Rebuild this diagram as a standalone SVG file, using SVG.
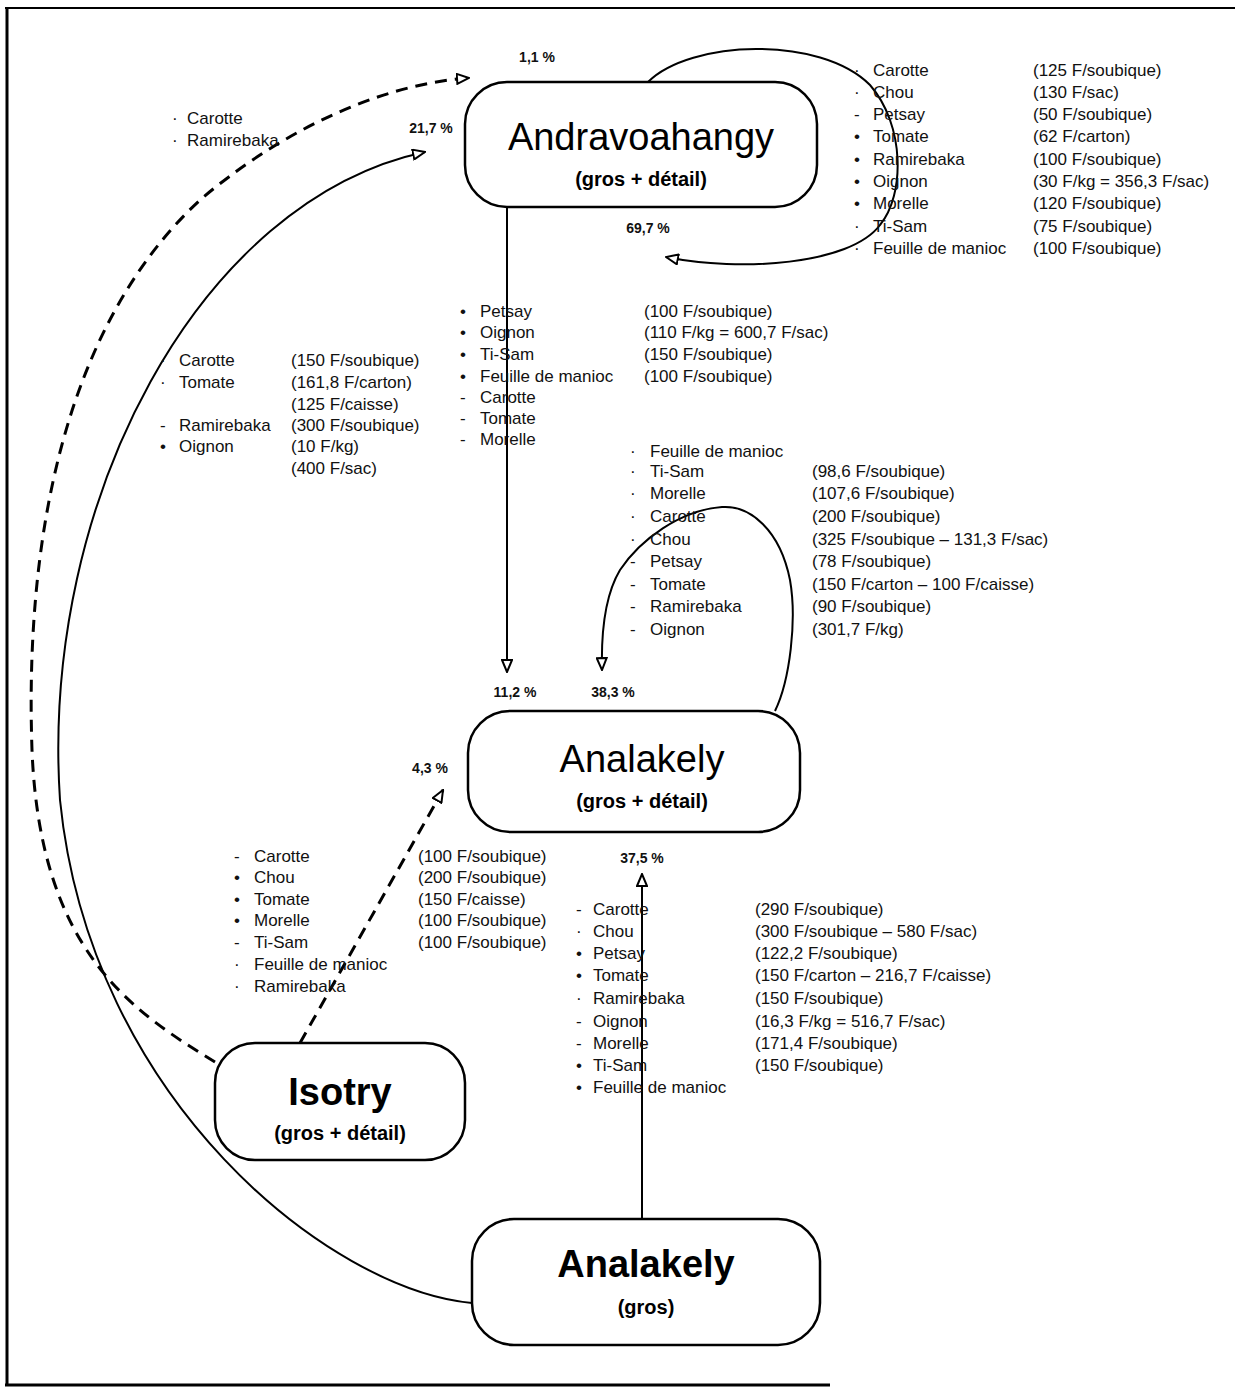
<svg xmlns="http://www.w3.org/2000/svg" width="1235" height="1390" viewBox="0 0 1235 1390">
<style>
  .t { font-family: "Liberation Sans", Arial, sans-serif; font-size: 17px; fill: #111; }
  .p { font-family: "Liberation Sans", Arial, sans-serif; font-size: 14px; font-weight: bold; fill: #111; text-anchor: middle; }
  .box { fill: #fff; stroke: #000; stroke-width: 2.5; }
  .title { font-family: "Liberation Sans", Arial, sans-serif; font-size: 38px; fill: #000; text-anchor: middle; }
  .sub { font-family: "Liberation Sans", Arial, sans-serif; font-size: 20px; font-weight: bold; fill: #000; text-anchor: middle; }
  .solid { fill: none; stroke: #000; stroke-width: 2; }
  .dash { fill: none; stroke: #000; stroke-width: 3; stroke-dasharray: 12 8; }
</style>
<defs>
  <marker id="arr" viewBox="0 0 14 12" refX="13" refY="6" markerWidth="14" markerHeight="12" markerUnits="userSpaceOnUse" orient="auto">
    <path d="M1,1 L13,6 L1,11 Z" fill="#fff" stroke="#000" stroke-width="2"/>
  </marker>
</defs>
<rect x="0" y="0" width="1235" height="1390" fill="#fff"/>
<g id="frame" stroke="#000" fill="none">
  <line x1="5" y1="8" x2="1235" y2="8" stroke-width="2"/>
  <line x1="7" y1="8" x2="7" y2="1386" stroke-width="3"/>
  <line x1="5" y1="1385" x2="830" y2="1385" stroke-width="3"/>
</g>
<g id="connectors">
  <path class="solid" d="M507,207 L507,672" marker-end="url(#arr)"/>
  <path class="solid" d="M775,711 C790,680 797,620 790,580 C780,530 750,505 722,507 C680,510 640,540 620,570 C605,595 601,630 602,670" marker-end="url(#arr)"/>
  <path class="solid" d="M648,82 C690,40 820,35 870,85 C905,125 905,195 880,225 C850,265 740,272 666,257" marker-end="url(#arr)"/>
  <path class="dash" d="M215,1062 C130,1010 40,950 32,750 C25,550 60,330 200,200 C270,140 370,85 469,78" marker-end="url(#arr)"/>
  <path class="solid" d="M472,1303 C330,1290 90,1100 60,800 C40,500 200,200 425,152" marker-end="url(#arr)"/>
  <path class="dash" d="M300,1043 L443,790" marker-end="url(#arr)"/>
  <path class="solid" d="M642,1219 L642,874" marker-end="url(#arr)"/>
</g>
<g id="node-andravoahangy">
  <rect class="box" x="465" y="82" width="352" height="125" rx="42"/>
  <text class="title" x="641" y="150">Andravoahangy</text>
  <text class="sub" x="641" y="186">(gros + détail)</text>
</g>
<g id="node-analakely">
  <rect class="box" x="468" y="711" width="332" height="121" rx="42"/>
  <text class="title" x="642" y="772">Analakely</text>
  <text class="sub" x="642" y="808">(gros + détail)</text>
</g>
<g id="node-isotry">
  <rect class="box" x="215" y="1043" width="250" height="117" rx="40"/>
  <text class="title" x="340" y="1105" font-weight="bold">Isotry</text>
  <text class="sub" x="340" y="1140">(gros + détail)</text>
</g>
<g id="node-analakely-gros">
  <rect class="box" x="472" y="1219" width="348" height="126" rx="42"/>
  <text class="title" x="646" y="1277" font-weight="bold">Analakely</text>
  <text class="sub" x="646" y="1314">(gros)</text>
</g>
<g id="percent-labels">
  <text class="p" x="537" y="62">1,1 %</text>
  <text class="p" x="431" y="133">21,7 %</text>
  <text class="p" x="648" y="233">69,7 %</text>
  <text class="p" x="515" y="697">11,2 %</text>
  <text class="p" x="613" y="697">38,3 %</text>
  <text class="p" x="430" y="773">4,3 %</text>
  <text class="p" x="642" y="863">37,5 %</text>
</g>
<g id="list-top-left" class="t">
  <text x="172" y="124">·</text><text x="187" y="124">Carotte</text>
  <text x="172" y="146">·</text><text x="187" y="146">Ramirebaka</text>
</g>
<g id="list-andravoahangy-loop">
  <text class="t"><tspan x="854" y="76">·</tspan><tspan x="854" y="98">·</tspan><tspan x="854" y="120">-</tspan><tspan x="854" y="142">•</tspan><tspan x="854" y="165">•</tspan><tspan x="854" y="187">•</tspan><tspan x="854" y="209">•</tspan><tspan x="854" y="232">·</tspan><tspan x="854" y="254">·</tspan></text>
  <text class="t"><tspan x="873" y="76">Carotte</tspan><tspan x="873" y="98">Chou</tspan><tspan x="873" y="120">Petsay</tspan><tspan x="873" y="142">Tomate</tspan><tspan x="873" y="165">Ramirebaka</tspan><tspan x="873" y="187">Oignon</tspan><tspan x="873" y="209">Morelle</tspan><tspan x="873" y="232">Ti-Sam</tspan><tspan x="873" y="254">Feuille de manioc</tspan></text>
  <text class="t"><tspan x="1033" y="76">(125 F/soubique)</tspan><tspan x="1033" y="98">(130 F/sac)</tspan><tspan x="1033" y="120">(50 F/soubique)</tspan><tspan x="1033" y="142">(62 F/carton)</tspan><tspan x="1033" y="165">(100 F/soubique)</tspan><tspan x="1033" y="187">(30 F/kg = 356,3 F/sac)</tspan><tspan x="1033" y="209">(120 F/soubique)</tspan><tspan x="1033" y="232">(75 F/soubique)</tspan><tspan x="1033" y="254">(100 F/soubique)</tspan></text>
</g>
<g id="list-andra-to-analakely">
  <text class="t"><tspan x="460" y="317">•</tspan><tspan x="460" y="338">•</tspan><tspan x="460" y="360">•</tspan><tspan x="460" y="382">•</tspan><tspan x="460" y="403">-</tspan><tspan x="460" y="424">-</tspan><tspan x="460" y="445">-</tspan></text>
  <text class="t"><tspan x="480" y="317">Petsay</tspan><tspan x="480" y="338">Oignon</tspan><tspan x="480" y="360">Ti-Sam</tspan><tspan x="480" y="382">Feuille de manioc</tspan><tspan x="480" y="403">Carotte</tspan><tspan x="480" y="424">Tomate</tspan><tspan x="480" y="445">Morelle</tspan></text>
  <text class="t"><tspan x="644" y="317">(100 F/soubique)</tspan><tspan x="644" y="338">(110 F/kg = 600,7 F/sac)</tspan><tspan x="644" y="360">(150 F/soubique)</tspan><tspan x="644" y="382">(100 F/soubique)</tspan></text>
</g>
<g id="list-gros-to-andra">
  <text class="t"><tspan x="160" y="366">·</tspan><tspan x="160" y="388">·</tspan><tspan x="160" y="431">-</tspan><tspan x="160" y="452">•</tspan></text>
  <text class="t"><tspan x="179" y="366">Carotte</tspan><tspan x="179" y="388">Tomate</tspan><tspan x="179" y="431">Ramirebaka</tspan><tspan x="179" y="452">Oignon</tspan></text>
  <text class="t"><tspan x="291" y="366">(150 F/soubique)</tspan><tspan x="291" y="388">(161,8 F/carton)</tspan><tspan x="291" y="410">(125 F/caisse)</tspan><tspan x="291" y="431">(300 F/soubique)</tspan><tspan x="291" y="452">(10 F/kg)</tspan><tspan x="291" y="474">(400 F/sac)</tspan></text>
</g>
<g id="list-analakely-loop">
  <text class="t"><tspan x="630" y="457">·</tspan><tspan x="630" y="477">·</tspan><tspan x="630" y="499">·</tspan><tspan x="630" y="522">·</tspan><tspan x="630" y="545">·</tspan><tspan x="630" y="567">-</tspan><tspan x="630" y="590">-</tspan><tspan x="630" y="612">-</tspan><tspan x="630" y="635">-</tspan></text>
  <text class="t"><tspan x="650" y="457">Feuille de manioc</tspan><tspan x="650" y="477">Ti-Sam</tspan><tspan x="650" y="499">Morelle</tspan><tspan x="650" y="522">Carotte</tspan><tspan x="650" y="545">Chou</tspan><tspan x="650" y="567">Petsay</tspan><tspan x="650" y="590">Tomate</tspan><tspan x="650" y="612">Ramirebaka</tspan><tspan x="650" y="635">Oignon</tspan></text>
  <text class="t"><tspan x="812" y="477">(98,6 F/soubique)</tspan><tspan x="812" y="499">(107,6 F/soubique)</tspan><tspan x="812" y="522">(200 F/soubique)</tspan><tspan x="812" y="545">(325 F/soubique – 131,3 F/sac)</tspan><tspan x="812" y="567">(78 F/soubique)</tspan><tspan x="812" y="590">(150 F/carton – 100 F/caisse)</tspan><tspan x="812" y="612">(90 F/soubique)</tspan><tspan x="812" y="635">(301,7 F/kg)</tspan></text>
</g>
<g id="list-isotry-to-analakely">
  <text class="t"><tspan x="234" y="862">-</tspan><tspan x="234" y="883">•</tspan><tspan x="234" y="905">•</tspan><tspan x="234" y="926">•</tspan><tspan x="234" y="948">-</tspan><tspan x="234" y="970">·</tspan><tspan x="234" y="992">·</tspan></text>
  <text class="t"><tspan x="254" y="862">Carotte</tspan><tspan x="254" y="883">Chou</tspan><tspan x="254" y="905">Tomate</tspan><tspan x="254" y="926">Morelle</tspan><tspan x="254" y="948">Ti-Sam</tspan><tspan x="254" y="970">Feuille de manioc</tspan><tspan x="254" y="992">Ramirebaka</tspan></text>
  <text class="t"><tspan x="418" y="862">(100 F/soubique)</tspan><tspan x="418" y="883">(200 F/soubique)</tspan><tspan x="418" y="905">(150 F/caisse)</tspan><tspan x="418" y="926">(100 F/soubique)</tspan><tspan x="418" y="948">(100 F/soubique)</tspan></text>
</g>
<g id="list-gros-to-analakely">
  <text class="t"><tspan x="576" y="915">-</tspan><tspan x="576" y="937">·</tspan><tspan x="576" y="959">•</tspan><tspan x="576" y="981">•</tspan><tspan x="576" y="1004">·</tspan><tspan x="576" y="1027">-</tspan><tspan x="576" y="1049">-</tspan><tspan x="576" y="1071">•</tspan><tspan x="576" y="1093">•</tspan></text>
  <text class="t"><tspan x="593" y="915">Carotte</tspan><tspan x="593" y="937">Chou</tspan><tspan x="593" y="959">Petsay</tspan><tspan x="593" y="981">Tomate</tspan><tspan x="593" y="1004">Ramirebaka</tspan><tspan x="593" y="1027">Oignon</tspan><tspan x="593" y="1049">Morelle</tspan><tspan x="593" y="1071">Ti-Sam</tspan><tspan x="593" y="1093">Feuille de manioc</tspan></text>
  <text class="t"><tspan x="755" y="915">(290 F/soubique)</tspan><tspan x="755" y="937">(300 F/soubique – 580 F/sac)</tspan><tspan x="755" y="959">(122,2 F/soubique)</tspan><tspan x="755" y="981">(150 F/carton – 216,7 F/caisse)</tspan><tspan x="755" y="1004">(150 F/soubique)</tspan><tspan x="755" y="1027">(16,3 F/kg = 516,7 F/sac)</tspan><tspan x="755" y="1049">(171,4 F/soubique)</tspan><tspan x="755" y="1071">(150 F/soubique)</tspan></text>
</g>
</svg>
